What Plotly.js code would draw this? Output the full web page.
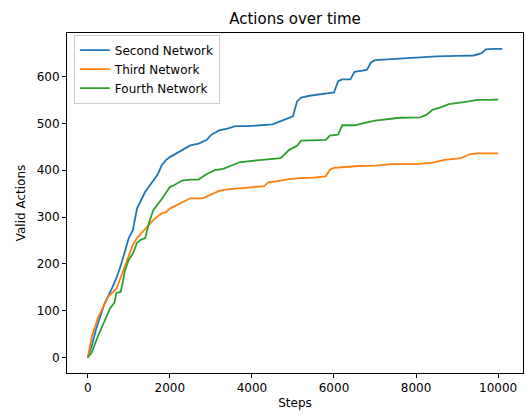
<!DOCTYPE html>
<html>
<head>
<meta charset="utf-8">
<script src="https://cdn.plot.ly/plotly-3.0.1.min.js"></script>
<style>
  html, body { margin: 0; padding: 0; background: #fff; }
  #chart { width: 527px; height: 414px; }
</style>
</head>
<body>
<div id="chart"></div>
<script>
// Valid actions accumulated over training steps, per network
const secondSteps = [0, 100, 200, 400, 600, 700, 800, 1000, 1100, 1200, 1400, 1600, 1700, 1800, 1900, 2000, 2100, 2300, 2500, 2700, 2900, 3000, 3200, 3400, 3600, 3900, 4200, 4500, 4700, 4900, 5000, 5100, 5200, 5400, 5800, 6000, 6100, 6200, 6400, 6500, 6800, 6900, 7000, 7200, 7600, 8000, 8500, 9000, 9400, 9600, 9700, 9900, 10100];
const secondValues = [0, 25, 60, 113, 150, 170, 195, 255, 272, 318, 354, 379, 390, 410, 421, 428, 433, 442, 453, 457, 465, 475, 485, 489, 494, 494, 496, 498, 505, 511, 515, 547, 555, 559, 563, 566, 590, 594, 594, 610, 614, 630, 635, 636, 638, 641, 643, 644, 645, 650, 658, 659, 659];

const thirdSteps = [0, 100, 250, 400, 500, 700, 800, 900, 1000, 1100, 1200, 1300, 1400, 1500, 1600, 1800, 1900, 2000, 2200, 2400, 2500, 2800, 3000, 3200, 3400, 3600, 3900, 4300, 4400, 4700, 4900, 5200, 5500, 5800, 5900, 6000, 6300, 6600, 7000, 7400, 8000, 8400, 8700, 9100, 9300, 9500, 10000];
const thirdValues = [0, 45, 85, 112, 130, 147, 170, 195, 220, 241, 255, 265, 276, 286, 294, 308, 310, 318, 327, 337, 340, 340, 348, 356, 359, 361, 363, 366, 374, 378, 381, 383, 384, 387, 401, 405, 407, 409, 410, 413, 413, 416, 422, 426, 434, 436, 436];

const fourthSteps = [0, 100, 250, 400, 550, 650, 700, 800, 850, 900, 1000, 1100, 1200, 1300, 1400, 1500, 1600, 1800, 1900, 2000, 2100, 2300, 2500, 2700, 2900, 3100, 3300, 3500, 3700, 3900, 4100, 4400, 4700, 4900, 5100, 5200, 5800, 5900, 6100, 6200, 6500, 6800, 7000, 7600, 8100, 8250, 8400, 8600, 8800, 9200, 9500, 9800, 10000];
const fourthValues = [0, 11, 46, 78, 106, 117, 138, 140, 158, 184, 209, 222, 245, 252, 255, 290, 315, 338, 350, 364, 368, 378, 380, 380, 392, 400, 403, 410, 417, 419, 421, 424, 426, 443, 452, 463, 465, 474, 476, 496, 496, 502, 506, 512, 513, 518, 529, 534, 541, 546, 550, 550, 551];

const seriesNames = ['Second Network', 'Third Network', 'Fourth Network'];
const seriesColors = ['#1f77b4', '#ff7f0e', '#2ca02c'];
const xTicks = [0, 2000, 4000, 6000, 8000, 10000];
const yTicks = [0, 100, 200, 300, 400, 500, 600];

const font = 'DejaVu Sans, sans-serif';

const traces = [
  [secondSteps, secondValues],
  [thirdSteps, thirdValues],
  [fourthSteps, fourthValues]
].map(([x, y], i) => ({
  type: 'scatter',
  mode: 'lines',
  x: x,
  y: y,
  name: seriesNames[i],
  line: { color: seriesColors[i], width: 1.8 },
  hoverinfo: 'skip'
}));

const axisCommon = {
  showgrid: false,
  zeroline: false,
  showline: true,
  mirror: true,
  linecolor: '#000',
  linewidth: 1,
  ticks: 'outside',
  ticklen: 4,
  tickwidth: 1,
  tickcolor: '#000',
  tickfont: { family: font, size: 12, color: '#000' }
};

const layout = {
  width: 527,
  height: 414,
  margin: { l: 67, r: 4, t: 33, b: 41, pad: 0 },
  paper_bgcolor: '#fff',
  plot_bgcolor: '#fff',
  showlegend: true,
  font: { family: font, color: '#000' },
  title: {
    text: 'Actions over time',
    font: { family: font, size: 15, color: '#000' },
    xref: 'paper', x: 0.5, xanchor: 'center',
    yref: 'container', y: 1 - 19 / 414, yanchor: 'middle'
  },
  xaxis: Object.assign({}, axisCommon, {
    range: [-505, 10605],
    tickvals: xTicks,
    ticktext: xTicks.map(String),
    title: { text: 'Steps', font: { family: font, size: 12, color: '#000' }, standoff: 4 }
  }),
  yaxis: Object.assign({}, axisCommon, {
    range: [-33, 693],
    tickvals: yTicks,
    ticktext: yTicks.map(String),
    title: { text: 'Valid Actions', font: { family: font, size: 12, color: '#000' }, standoff: 8 }
  }),
  legend: {
    x: 0.015, y: 0.995, xanchor: 'left', yanchor: 'top',
    bgcolor: 'rgba(255,255,255,0.8)',
    bordercolor: '#cccccc',
    borderwidth: 1,
    font: { family: font, size: 12, color: '#000' },
    tracegroupgap: 0
  }
};

Plotly.newPlot('chart', traces, layout, { staticPlot: true, displayModeBar: false });
</script>
</body>
</html>
